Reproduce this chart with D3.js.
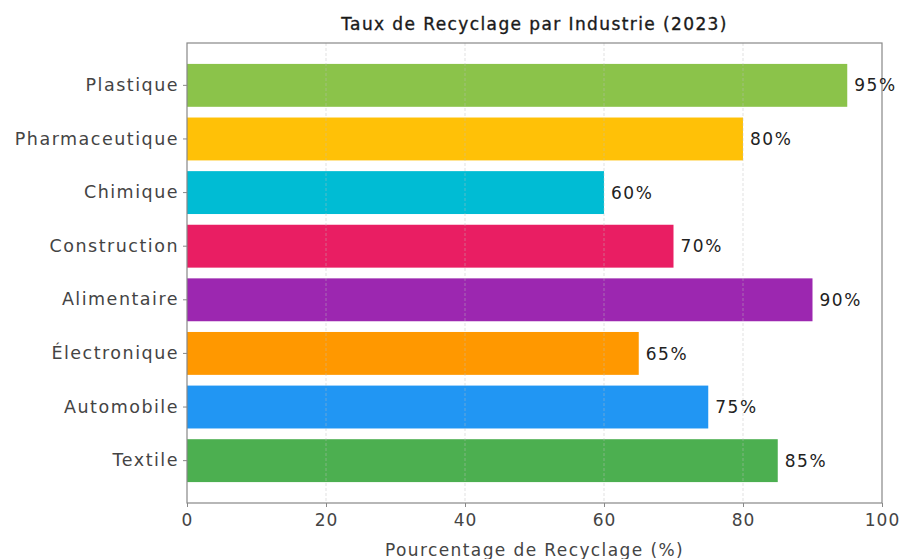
<!DOCTYPE html>
<html><head><meta charset="utf-8">
<script src="https://cdn.jsdelivr.net/npm/d3@7"></script>
<style>body{margin:0;background:#fff}svg{font-family:"DejaVu Sans",sans-serif}</style>
</head><body><svg id="c" width="899" height="559"></svg>
<script>
const categories = ["Plastique","Pharmaceutique","Chimique","Construction","Alimentaire","Électronique","Automobile","Textile"];
const values = [95,80,60,70,90,65,75,85];
const colors = ["#8BC34A","#FFC107","#00BCD4","#E91E63","#9C27B0","#FF9800","#2196F3","#4CAF50"];
const xTicks = [0,20,40,60,80,100];
const title = "Taux de Recyclage par Industrie (2023)";
const xTitle = "Pourcentage de Recyclage (%)";

const svg = d3.select("#c");
const L=187,R=882,T=43,B=503;
const x = d3.scaleLinear().domain([0,100]).range([L,R]);
const y = d3.scaleBand().domain(categories).range([T,B]).paddingInner(0.2).paddingOuter(0.39);
const FF = "'DejaVu Sans',sans-serif";

svg.append("rect").attr("x",L).attr("y",T).attr("width",R-L).attr("height",B-T).attr("fill","#fff");

svg.selectAll(".bar").data(categories).enter().append("rect")
  .attr("x",x(0)).attr("y",d=>y(d)).attr("height",y.bandwidth())
  .attr("width",(d,i)=>x(values[i])-x(0)).attr("fill",(d,i)=>colors[i]);

svg.selectAll(".grid").data(xTicks.slice(1,-1)).enter().append("line")
  .attr("x1",d=>x(d)).attr("x2",d=>x(d)).attr("y1",T).attr("y2",B)
  .attr("stroke","#bbb").attr("stroke-opacity",0.45).attr("stroke-dasharray","3,2").attr("stroke-width",1);

svg.append("rect").attr("x",L).attr("y",T).attr("width",R-L).attr("height",B-T)
  .attr("fill","none").attr("stroke","#888").attr("stroke-width",1.2);

svg.selectAll(".val").data(categories).enter().append("text")
  .attr("x",(d,i)=>x(values[i])+7).attr("y",d=>y(d)+y.bandwidth()/2)
  .attr("dy","0.36em").attr("font-size",17).attr("fill","#222").attr("letter-spacing",1.5)
  .text((d,i)=>values[i]+"%");

const xa = svg.append("g").attr("transform",`translate(0,${B})`)
  .call(d3.axisBottom(x).tickValues(xTicks).tickSize(4).tickPadding(7).tickFormat(d3.format("d")));
xa.select(".domain").remove();
xa.selectAll("line").attr("stroke","#888");
xa.selectAll("text").attr("font-size",17).attr("fill","#444").attr("font-family",FF).attr("letter-spacing",1);

const ya = svg.append("g").attr("transform",`translate(${L},0)`)
  .call(d3.axisLeft(y).tickSize(4).tickPadding(4));
ya.select(".domain").remove();
ya.selectAll("line").attr("stroke","#888");
ya.selectAll("text").attr("font-size",17.5).attr("fill","#444").attr("font-family",FF).attr("letter-spacing",1.5);

svg.append("text").attr("x",(L+R)/2).attr("y",30).attr("text-anchor","middle")
  .attr("font-size",17).attr("fill","#1a1a1a").attr("stroke","#1a1a1a").attr("stroke-width",0.35)
  .attr("letter-spacing",1.4).text(title);
svg.append("text").attr("x",(L+R)/2).attr("y",556).attr("text-anchor","middle")
  .attr("font-size",17).attr("fill","#444").attr("letter-spacing",1.4).text(xTitle);
</script></body></html>
